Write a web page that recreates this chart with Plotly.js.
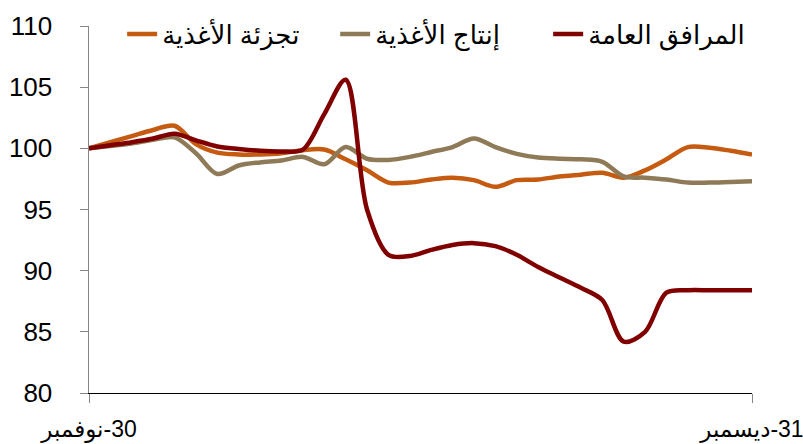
<!DOCTYPE html>
<html>
<head>
<meta charset="utf-8">
<script src="https://cdn.plot.ly/plotly-3.0.1.min.js"></script>
<style>
  html, body { margin: 0; padding: 0; background: #fff; }
  #chart { width: 803px; height: 444px; }
</style>
</head>
<body>
<div id="chart"></div>
<script>
// Daily sector index levels, rebased to 100 on 30 November
const dates = [
  '2020-11-30', '2020-12-01', '2020-12-02', '2020-12-03', '2020-12-04', '2020-12-05',
  '2020-12-06', '2020-12-07', '2020-12-08', '2020-12-09', '2020-12-10', '2020-12-11',
  '2020-12-12', '2020-12-13', '2020-12-14', '2020-12-15', '2020-12-16', '2020-12-17',
  '2020-12-18', '2020-12-19', '2020-12-20', '2020-12-21', '2020-12-22', '2020-12-23',
  '2020-12-24', '2020-12-25', '2020-12-26', '2020-12-27', '2020-12-28', '2020-12-29',
  '2020-12-30', '2020-12-31'
];

// Food retailing
const foodRetail = [
  100.0, 100.5, 101.0, 101.5, 101.85, 100.35,
  99.65, 99.5, 99.5, 99.6, 99.85, 99.9,
  99.1, 98.2, 97.2, 97.2, 97.45, 97.6,
  97.4, 96.85, 97.4, 97.45, 97.7, 97.85,
  98.0, 97.6, 98.2, 99.1, 100.1, 100.05,
  99.8, 99.5
];

// Food production
const foodProduction = [
  100.0, 100.2, 100.4, 100.7, 100.9, 99.6,
  97.9, 98.6, 98.85, 99.0, 99.3, 98.7,
  100.1, 99.15, 99.05, 99.3, 99.7, 100.1,
  100.8, 100.1, 99.55, 99.25, 99.15, 99.1,
  98.9, 97.7, 97.6, 97.45, 97.2, 97.2,
  97.25, 97.3
];

// Utilities
const utilities = [
  100.0, 100.25, 100.5, 100.8, 101.2, 100.65,
  100.15, 99.95, 99.8, 99.75, 99.9, 102.8,
  105.6, 95.0, 91.3, 91.2, 91.7, 92.1,
  92.25, 92.0, 91.3, 90.3, 89.45, 88.6,
  87.6, 84.2, 85.0, 88.2, 88.4, 88.4,
  88.4, 88.4
];

const seriesNames = ['تجزئة الأغذية', 'إنتاج الأغذية', 'المرافق العامة'];
const seriesColors = ['#C55A11', '#8F7A58', '#800000'];
const seriesValues = [foodRetail, foodProduction, utilities];

const yTicks = [80, 85, 90, 95, 100, 105, 110];
const xTickVals = ['2020-11-30', '2020-12-31'];
// RLM keeps the day number on the right of the month name
const xTickText = ['\u200F30-نوفمبر', '\u200F31-ديسمبر'];

const FONT = 'Liberation Sans, Arial, DejaVu Sans, sans-serif';

const traces = seriesValues.map((vals, i) => ({
  type: 'scatter',
  mode: 'lines',
  x: dates,
  y: vals,
  name: seriesNames[i],
  line: { color: seriesColors[i], width: 4.5, shape: 'spline', smoothing: 0.9 },
  hoverinfo: 'x+y+name'
}));

const layout = {
  width: 803,
  height: 444,
  margin: { l: 89, r: 51, t: 25, b: 51 },
  paper_bgcolor: '#ffffff',
  plot_bgcolor: '#ffffff',
  font: { family: FONT, color: '#000000' },
  showlegend: true,
  legend: {
    orientation: 'h',
    x: 0.05,
    xanchor: 'left',
    y: 0.975,
    yanchor: 'middle',
    font: { family: FONT, size: 26, color: '#000000' },
    bgcolor: 'rgba(0,0,0,0)',
    traceorder: 'normal',
    itemwidth: 30,
    entrywidth: 168,
    entrywidthmode: 'pixels'
  },
  xaxis: {
    type: 'date',
    range: ['2020-11-30', '2020-12-31'],
    tickmode: 'array',
    tickvals: xTickVals,
    ticktext: xTickText,
    ticks: 'outside',
    ticklen: 9,
    tickwidth: 1,
    tickcolor: '#868686',
    tickfont: { family: FONT, size: 23, color: '#000000' },
    ticklabelstandoff: 6,
    ticklabeloverflow: 'allow',
    showline: true,
    linecolor: '#000000',
    linewidth: 1,
    showgrid: false,
    zeroline: false,
    fixedrange: true
  },
  yaxis: {
    range: [80, 110],
    tickmode: 'array',
    tickvals: yTicks,
    ticks: 'outside',
    ticklen: 8,
    tickwidth: 1,
    tickcolor: '#868686',
    tickfont: { family: FONT, size: 26, color: '#000000' },
    ticklabelstandoff: 22,
    showline: true,
    linecolor: '#868686',
    linewidth: 1.5,
    showgrid: false,
    zeroline: false,
    fixedrange: true
  }
};

Plotly.newPlot('chart', traces, layout, { displayModeBar: false, staticPlot: true });
</script>
</body>
</html>
